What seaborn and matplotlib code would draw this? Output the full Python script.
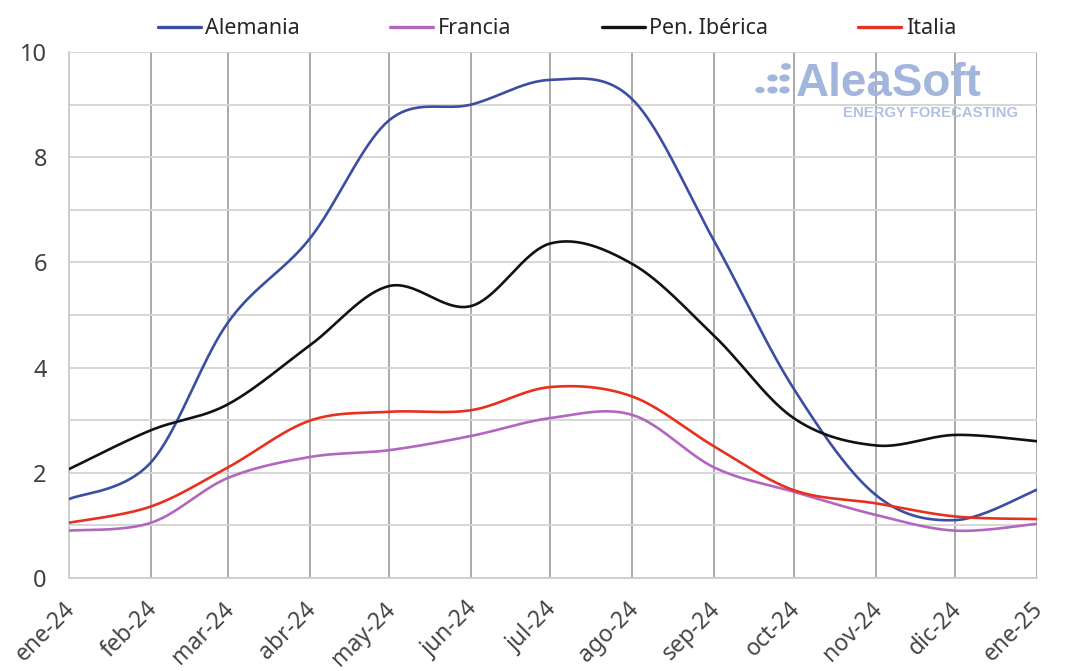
import numpy as np
import pandas as pd
import matplotlib
matplotlib.use("Agg")
import matplotlib.pyplot as plt
import matplotlib.transforms as mtransforms
from matplotlib.patches import Circle
from matplotlib.lines import Line2D
import seaborn as sns

# Monthly values
months = ["ene-24", "feb-24", "mar-24", "abr-24", "may-24", "jun-24", "jul-24",
          "ago-24", "sep-24", "oct-24", "nov-24", "dic-24", "ene-25"]
alemania = [1.50, 2.20, 4.85, 6.45, 8.70, 9.00, 9.47, 9.10, 6.40, 3.60, 1.58, 1.10, 1.68]
francia = [0.90, 1.05, 1.90, 2.30, 2.43, 2.70, 3.04, 3.10, 2.10, 1.64, 1.20, 0.90, 1.03]
pen_iberica = [2.07, 2.81, 3.30, 4.42, 5.55, 5.17, 6.36, 5.97, 4.60, 3.04, 2.52, 2.72, 2.60]
italia = [1.05, 1.36, 2.10, 2.99, 3.16, 3.19, 3.63, 3.45, 2.50, 1.67, 1.42, 1.17, 1.12]

series_names = ["Alemania", "Francia", "Pen. Ibérica", "Italia"]
series_values = [alemania, francia, pen_iberica, italia]
palette = {"Alemania": "#3b4ea3", "Francia": "#b266c0",
           "Pen. Ibérica": "#111111", "Italia": "#e8301f"}

# x positions: days since the first month start (date axis)
month_starts = pd.date_range("2024-01-01", "2025-01-01", freq="MS")
x_days = np.asarray((month_starts - month_starts[0]).days, dtype=float)


def smooth_curve(x, y, n=40):
    """Catmull-Rom style Bezier smoothing through every point."""
    x = np.asarray(x, float)
    y = np.asarray(y, float)
    px = np.concatenate([[x[0]], x, [x[-1]]])
    py = np.concatenate([[y[0]], y, [y[-1]]])
    xs, ys = [], []
    t = np.linspace(0, 1, n)
    for i in range(1, len(px) - 2):
        p0 = np.array([px[i - 1], py[i - 1]])
        p1 = np.array([px[i], py[i]])
        p2 = np.array([px[i + 1], py[i + 1]])
        p3 = np.array([px[i + 2], py[i + 2]])
        c1 = p1 + (p2 - p0) / 6.0
        c2 = p2 - (p3 - p1) / 6.0
        b = ((1 - t) ** 3)[:, None] * p1 + (3 * (1 - t) ** 2 * t)[:, None] * c1 \
            + (3 * (1 - t) * t ** 2)[:, None] * c2 + (t ** 3)[:, None] * p2
        if i > 1:
            b = b[1:]
        xs.append(b[:, 0])
        ys.append(b[:, 1])
    return np.concatenate(xs), np.concatenate(ys)


frames = []
for name, vals in zip(series_names, series_values):
    sx, sy = smooth_curve(x_days, vals)
    frames.append(pd.DataFrame({"x": sx, "y": sy, "serie": name}))
df = pd.concat(frames, ignore_index=True)

sns.set_theme(style="white")
plt.rcParams["font.family"] = ["Noto Sans", "DejaVu Sans"]

fig = plt.figure(figsize=(10.65, 6.71), dpi=100)
ax = fig.add_axes([69 / 1065, 1 - 578 / 671, (1037 - 69) / 1065, (578 - 52) / 671])

sns.lineplot(data=df, x="x", y="y", hue="serie", hue_order=series_names,
             palette=palette, sort=False, estimator=None, units="serie",
             linewidth=1.9, legend=False, ax=ax, zorder=3)

ax.set_xlim(x_days[0], x_days[-1])
ax.set_ylim(0, 10)
ax.set_xticks(x_days)
ax.set_xticklabels(months)
ax.set_yticks(np.arange(0, 11, 2))
ax.set_yticks(np.arange(1, 11, 2), minor=True)
ax.set_xlabel("")
ax.set_ylabel("")

ax.grid(axis="y", which="both", color="#d6d6d6", linewidth=1.4, zorder=0)
ax.grid(axis="x", which="major", color="#a9a9a9", linewidth=1.4, zorder=0)
for side in ["top", "right"]:
    ax.spines[side].set_visible(False)
for side in ["left", "bottom"]:
    ax.spines[side].set_color("#cfcfcf")
    ax.spines[side].set_linewidth(1.4)

ax.tick_params(axis="y", which="both", length=0, pad=16, labelsize=17, labelcolor="#404040")
ax.tick_params(axis="x", length=0, pad=20, labelsize=16.5, labelcolor="#454545")
shift = mtransforms.ScaledTranslation(3 / 100, 0, fig.dpi_scale_trans)
for lab in ax.get_xticklabels():
    lab.set_rotation(45)
    lab.set_rotation_mode("anchor")
    lab.set_ha("right")
    lab.set_va("center")
    lab.set_transform(lab.get_transform() + shift)

# Legend across the top
handles = [Line2D([0], [0], color=palette[n], linewidth=2.4) for n in series_names]
fig.legend(handles, series_names, loc="center", bbox_to_anchor=(557 / 1065, 1 - 29 / 671),
           ncol=4, frameon=False, fontsize=15.5, handlelength=2.0, handletextpad=0.2,
           columnspacing=4.2, labelcolor="#262626")

# Logo watermark
logo_color = "#a2b5dc"
dots = [(760, 90, 3.9), (772.5, 90, 4.5), (784.5, 90, 4.5),
        (772.5, 78, 4.5), (784.5, 78, 4.5), (786, 66.5, 4.2)]
for dx, dy, r in dots:
    fig.patches.append(Circle((dx / 1065, 1 - dy / 671), r / 1065,
                              transform=fig.transFigure, color=logo_color, zorder=5))
fig.text(796 / 1065, 1 - 96 / 671, "AleaSoft", fontsize=33, fontweight="bold",
         color=logo_color, family="Liberation Sans", ha="left", va="baseline", zorder=5)
fig.text(1018 / 1065, 1 - 117 / 671, "ENERGY FORECASTING", fontsize=10.7, fontweight="bold",
         color="#b0c0e0", family="Liberation Sans", ha="right", va="baseline", zorder=5)

fig.savefig("out.png", dpi=100, facecolor="white")
